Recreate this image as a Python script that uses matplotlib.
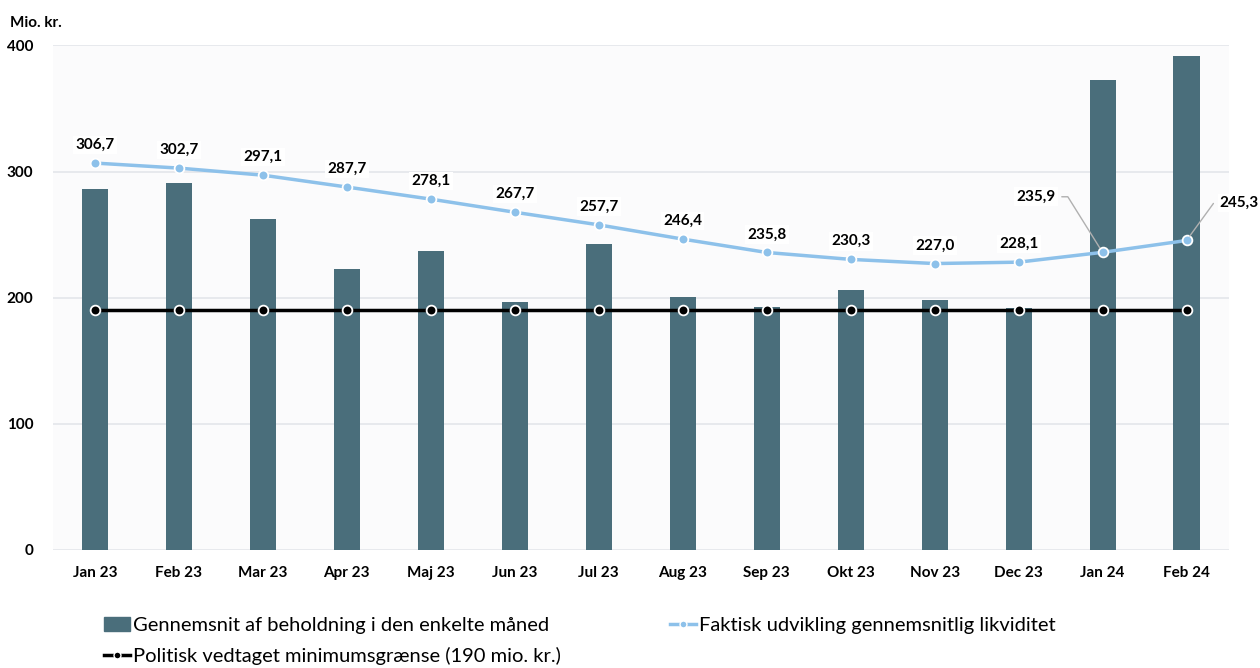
import matplotlib.pyplot as plt
from matplotlib.lines import Line2D
from matplotlib.patches import Patch

months = ["Jan 23", "Feb 23", "Mar 23", "Apr 23", "Maj 23", "Jun 23", "Jul 23",
          "Aug 23", "Sep 23", "Okt 23", "Nov 23", "Dec 23", "Jan 24", "Feb 24"]
beholdning = [286.0, 290.8, 262.7, 222.8, 237.1, 196.8, 242.4,
              200.3, 192.9, 206.1, 198.2, 192.1, 372.8, 391.8]
likviditet = [306.7, 302.7, 297.1, 287.7, 278.1, 267.7, 257.7,
              246.4, 235.8, 230.3, 227.0, 228.1, 235.9, 245.3]
minimum = [190] * len(months)
yticks = [0, 100, 200, 300, 400]

plt.rcParams['font.family'] = ['Lato', 'DejaVu Sans']

bar_col = '#4a6e7b'
line_col = '#8dc1ea'

fig = plt.figure(figsize=(12.6, 6.68), dpi=100)
ax = fig.add_axes([0.042, 0.177, 0.933, 0.755])
ax.set_facecolor('#fbfbfc')

x = list(range(len(months)))
ax.bar(x, beholdning, width=0.31, color=bar_col, zorder=2)
ax.plot(x, likviditet, color=line_col, lw=2.5, marker='o', ms=7,
        mfc=line_col, mec='white', mew=1.3, zorder=3)
ax.plot(x, minimum, color='black', lw=2.5, marker='o', ms=7,
        mfc='black', mec='white', mew=1.3, zorder=4)

lbl_box = dict(boxstyle='square,pad=0.15', fc='white', ec='none')

# data labels
for i, v in enumerate(likviditet):
    txt = f"{v:.1f}".replace('.', ',')
    if i < len(months) - 2:
        ax.annotate(txt, (i, v), xytext=(0, 8), textcoords='offset points',
                    ha='center', va='bottom', fontsize=11, fontweight='bold',
                    bbox=lbl_box, zorder=5)

# offset labels with leader lines for the last two
ax.annotate("235,9", (12, likviditet[12]), xytext=(-34, 40), textcoords='offset points',
            ha='right', va='center', fontsize=11, fontweight='bold', bbox=lbl_box,
            arrowprops=dict(arrowstyle='-', color='#b0b0b0', lw=1,
                            connectionstyle='angle,angleA=0,angleB=122,rad=0',
                            shrinkA=3, shrinkB=4), zorder=5)
ax.annotate("245,3", (13, likviditet[13]), xytext=(24, 27), textcoords='offset points',
            ha='left', va='center', fontsize=11, fontweight='bold', bbox=lbl_box,
            arrowprops=dict(arrowstyle='-', color='#b0b0b0', lw=1,
                            connectionstyle='angle,angleA=0,angleB=54,rad=0',
                            shrinkA=3, shrinkB=4), zorder=5)

ax.set_xlim(-0.5, len(months) - 0.5)
ax.set_ylim(0, 400)
ax.set_yticks(yticks)
ax.set_yticklabels([str(t) for t in yticks], fontsize=11, fontweight='bold')
ax.set_xticks(x)
ax.set_xticklabels(months, fontsize=11, fontweight='bold')
ax.tick_params(length=0, pad=12)
ax.tick_params(axis='y', pad=14)
ax.grid(axis='y', color='#e3e6ea', lw=1.2, zorder=0)
ax.set_axisbelow(True)
for s in ax.spines.values():
    s.set_visible(False)

fig.text(0.008, 0.965, "Mio. kr.", fontsize=11, fontweight='bold', ha='left', va='center')

handles = [
    Patch(color=bar_col, label="Gennemsnit af beholdning i den enkelte måned"),
    Line2D([], [], color='black', lw=2.5, marker='o', ms=5, mfc='black', mec='white',
           label="Politisk vedtaget minimumsgrænse (190 mio. kr.)"),
    Line2D([], [], color=line_col, lw=2.5, marker='o', ms=5, mfc=line_col, mec='white',
           label="Faktisk udvikling gennemsnitlig likviditet"),
]
fig.legend(handles=handles, ncol=2, loc='upper left', bbox_to_anchor=(0.076, 0.089),
           frameon=False, fontsize=14.5, handlelength=1.3, handletextpad=0.15,
           columnspacing=5.4, labelspacing=0.68, borderaxespad=0)

fig.savefig('out.png', dpi=100)
